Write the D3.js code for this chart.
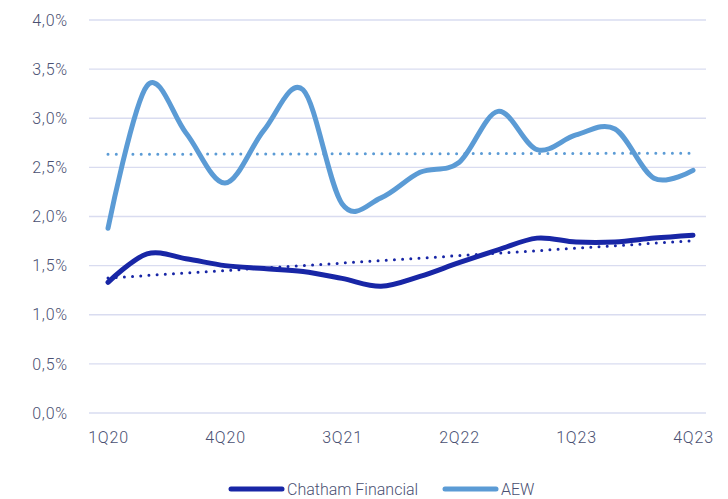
<!DOCTYPE html>
<html>
<head>
<meta charset="utf-8">
<script src="https://cdn.jsdelivr.net/npm/d3@7"></script>
<style>
  html, body { margin: 0; padding: 0; background: #ffffff; }
  svg { display: block; }
  text { font-family: Roboto, "Noto Sans", sans-serif; font-weight: 300; }
</style>
</head>
<body>
<svg id="chart" width="728" height="499"></svg>
<script>
const quarters = ["1Q20","2Q20","3Q20","4Q20","1Q21","2Q21","3Q21","4Q21",
                  "1Q22","2Q22","3Q22","4Q22","1Q23","2Q23","3Q23","4Q23"];
const chatham = [1.33, 1.62, 1.57, 1.50, 1.47, 1.44, 1.37, 1.29,
                 1.39, 1.53, 1.66, 1.78, 1.74, 1.74, 1.78, 1.81];
const aew = [1.88, 3.33, 2.85, 2.34, 2.88, 3.29, 2.13, 2.19,
             2.45, 2.55, 3.07, 2.68, 2.83, 2.89, 2.39, 2.47];
const xTickLabels = ["1Q20","4Q20","3Q21","2Q22","1Q23","4Q23"];
const yTicks = [0, 0.5, 1.0, 1.5, 2.0, 2.5, 3.0, 3.5, 4.0];
const seriesNames = ["Chatham Financial", "AEW"];

const colors = { chatham: "#1826a6", aew: "#5b9bd5", grid: "#d9dcf0", text: "#4a5072" };

const svg = d3.select("#chart");
const x = d3.scalePoint().domain(quarters).range([108, 693]);
const y = d3.scaleLinear().domain([0, 4]).range([413, 20]);
const gridX0 = 89, gridX1 = 706;

// gridlines
svg.append("g").selectAll("line").data(yTicks).join("line")
  .attr("x1", gridX0).attr("x2", gridX1)
  .attr("y1", d => y(d)).attr("y2", d => y(d))
  .attr("stroke", colors.grid).attr("stroke-width", 1.3);

// y axis labels
const fmt = d => d.toFixed(1).replace(".", ",") + "%";
const yAxis = d3.axisLeft(y).tickValues(yTicks).tickFormat(fmt).tickSize(0).tickPadding(0);
const yg = svg.append("g").attr("transform", "translate(68,0)").call(yAxis);
yg.select(".domain").remove();
yg.selectAll("text").attr("fill", colors.text).style("font-size", "16px")
  .style("font-family", "Roboto, sans-serif").style("font-weight", 300)
  .style("letter-spacing", "0.8px");

// x axis labels
const xAxis = d3.axisBottom(x).tickValues(xTickLabels).tickSize(0).tickPadding(0);
const xg = svg.append("g").attr("transform", "translate(0,432)").call(xAxis);
xg.select(".domain").remove();
xg.selectAll("text").attr("fill", colors.text).style("font-size", "16px")
  .style("font-family", "Roboto, sans-serif").style("font-weight", 300)
  .style("letter-spacing", "0.8px");

// lines
const line = d3.line()
  .x((d, i) => x(quarters[i]))
  .y(d => y(d))
  .curve(d3.curveCardinal.tension(0));

function trend(vals) {
  const n = vals.length;
  const mx = (n - 1) / 2;
  const my = d3.mean(vals);
  let sxy = 0, sxx = 0;
  vals.forEach((v, i) => { sxy += (i - mx) * (v - my); sxx += (i - mx) * (i - mx); });
  const b = sxy / sxx, a = my - b * mx;
  return [[0, a], [n - 1, a + b * (n - 1)]];
}
const tline = d3.line().x(d => x(quarters[d[0]])).y(d => y(d[1]));

svg.append("path").datum(chatham).attr("d", line)
  .attr("fill", "none").attr("stroke", colors.chatham).attr("stroke-width", 5)
  .attr("stroke-linecap", "round").attr("stroke-linejoin", "round");
svg.append("path").datum(aew).attr("d", line)
  .attr("fill", "none").attr("stroke", colors.aew).attr("stroke-width", 5)
  .attr("stroke-linecap", "round").attr("stroke-linejoin", "round");

svg.append("path").datum(trend(chatham)).attr("d", tline)
  .attr("fill", "none").attr("stroke", colors.chatham).attr("stroke-width", 3)
  .attr("stroke-dasharray", "0 8.2").attr("stroke-linecap", "round");
svg.append("path").datum(trend(aew)).attr("d", tline)
  .attr("fill", "none").attr("stroke", colors.aew).attr("stroke-width", 3)
  .attr("stroke-dasharray", "0 8.3").attr("stroke-linecap", "round");

// legend
const legend = [
  { name: seriesNames[0], color: colors.chatham, x: 229, tx: 287 },
  { name: seriesNames[1], color: colors.aew, x: 443, tx: 501 }
];
const lg = svg.append("g");
legend.forEach(l => {
  lg.append("line").attr("x1", l.x + 2).attr("x2", l.x + 53).attr("y1", 489).attr("y2", 489)
    .attr("stroke", l.color).attr("stroke-width", 5).attr("stroke-linecap", "round");
  lg.append("text").attr("x", l.tx).attr("y", 489).attr("dy", "0.35em")
    .attr("fill", colors.text).style("font-size", "16px").text(l.name);
});
</script>
</body>
</html>
